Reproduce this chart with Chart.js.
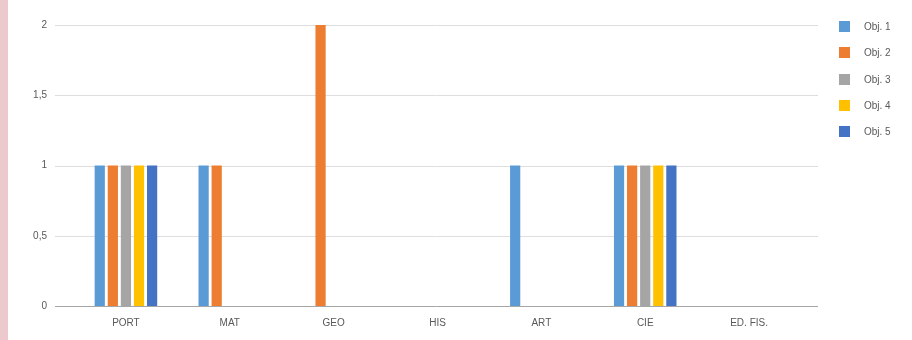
<!DOCTYPE html>
<html>
<head>
<meta charset="utf-8">
<script src="https://cdn.jsdelivr.net/npm/chart.js@4.4.1/dist/chart.umd.min.js"></script>
<style>
  html, body { margin: 0; padding: 0; background: #fff; }
  #wrap { position: relative; width: 912px; height: 340px; }
  #edge { position: absolute; left: 0; top: 0; width: 8px; height: 340px; background: #ecc9cd; }
  #legend { position: absolute; left: 839px; top: 21px; font: 10px "Liberation Sans", Arial, sans-serif; color: #595959; }
  #legend div { height: 26.3px; display: flex; align-items: flex-start; }
  #legend span.box { display: inline-block; width: 11px; height: 11px; margin-right: 14px; }
</style>
</head>
<body>
<div id="wrap">
  <canvas id="chart" width="912" height="340"></canvas>
  <div id="edge"></div>
  <div id="legend"></div>
</div>
<script>
const subjects = ['PORT', 'MAT', 'GEO', 'HIS', 'ART', 'CIE', 'ED. FIS.'];
const seriesNames = ['Obj. 1', 'Obj. 2', 'Obj. 3', 'Obj. 4', 'Obj. 5'];
const obj1 = [1, 1, 0, 0, 1, 1, 0];
const obj2 = [1, 1, 2, 0, 0, 1, 0];
const obj3 = [1, 0, 0, 0, 0, 1, 0];
const obj4 = [1, 0, 0, 0, 0, 1, 0];
const obj5 = [1, 0, 0, 0, 0, 1, 0];
const colors = ['#5b9bd5', '#ed7d31', '#a5a5a5', '#ffc000', '#4472c4'];

const allSeries = [obj1, obj2, obj3, obj4, obj5];

// draws the horizontal grid a bit wider than the plot, like the original
const wideGrid = {
  id: 'wideGrid',
  beforeDatasetsDraw(chart) {
    const { ctx, chartArea, scales } = chart;
    ctx.save();
    ctx.lineWidth = 1;
    scales.y.ticks.forEach(t => {
      const y = Math.round(scales.y.getPixelForValue(t.value)) + 0.5;
      ctx.strokeStyle = t.value === 0 ? '#a6a6a6' : '#dedede';
      ctx.beginPath();
      ctx.moveTo(chartArea.left - 19, y);
      ctx.lineTo(chartArea.right + 17, y);
      ctx.stroke();
    });
    ctx.restore();
  }
};

const font = { family: '"Liberation Sans", Arial, sans-serif', size: 10 };

new Chart(document.getElementById('chart'), {
  type: 'bar',
  data: {
    labels: subjects,
    datasets: allSeries.map((d, i) => ({
      label: seriesNames[i],
      data: d,
      backgroundColor: colors[i],
      barPercentage: 0.78,
      categoryPercentage: 0.63
    }))
  },
  options: {
    responsive: false,
    animation: false,
    layout: { padding: { left: 0, right: 111, top: 16, bottom: 0 } },
    plugins: {
      legend: { display: false },
      tooltip: { enabled: false }
    },
    scales: {
      x: {
        grid: { display: false },
        border: { display: false },
        ticks: { color: '#595959', font: font, padding: 3, maxRotation: 0 },
        afterFit(scale) { scale.height = 34; }
      },
      y: {
        min: 0,
        max: 2,
        grid: { display: false },
        border: { display: false },
        ticks: {
          stepSize: 0.5,
          color: '#595959',
          font: font,
          padding: 19,
          callback: v => String(v).replace('.', ',')
        },
        afterFit(scale) { scale.width = 74; }
      }
    }
  },
  plugins: [wideGrid]
});

const legend = document.getElementById('legend');
seriesNames.forEach((name, i) => {
  const row = document.createElement('div');
  row.innerHTML = '<span class="box" style="background:' + colors[i] + '"></span>' + name;
  legend.appendChild(row);
});
</script>
</body>
</html>
